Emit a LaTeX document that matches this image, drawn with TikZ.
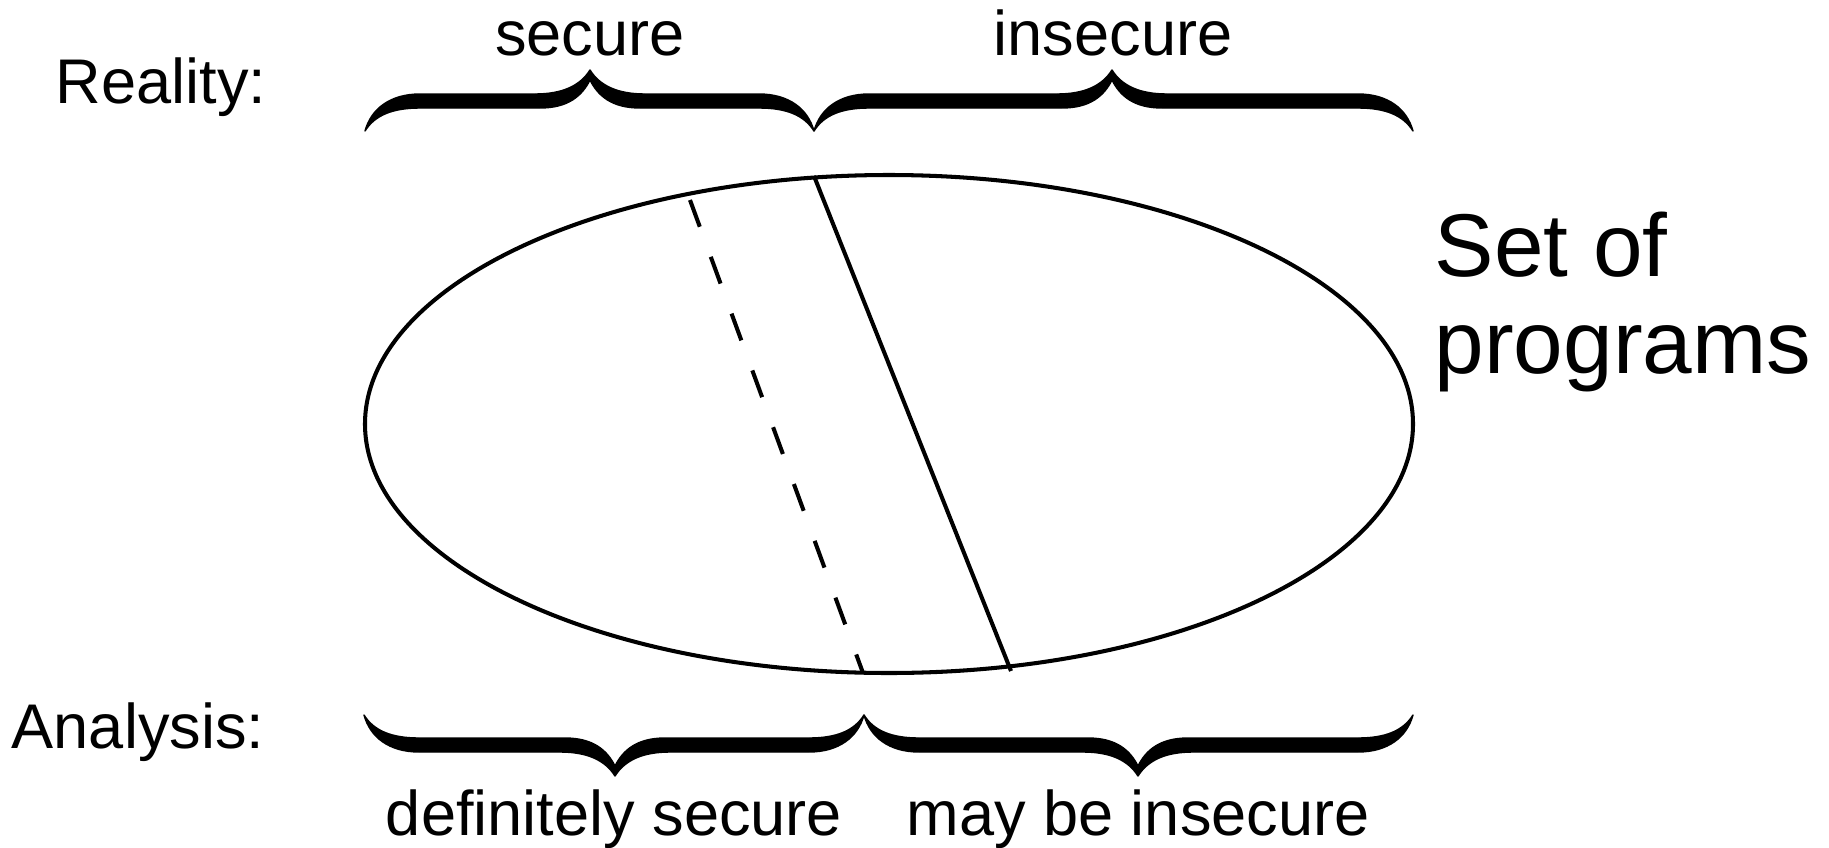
\documentclass[tikz,border=0pt]{standalone}
\usepackage{fontspec}
\setmainfont{Liberation Sans}
% #1 = left end x, #2 = tip x, #3 = right end x, #4 = end y, #5 = +1 (tip up) / -1 (tip down)
\newcommand{\curlybrace}[5]{%
  \filldraw[bracefill]
    (#1,#4) .. controls ({#1+6},{#4-(#5)*22}) and ({#1+25},{#4-(#5)*37}) .. ({#1+55},{#4-(#5)*37})
    -- ({#2-55},{#4-(#5)*37})
    .. controls ({#2-28},{#4-(#5)*37}) and ({#2-10},{#4-(#5)*45}) .. (#2,{#4-(#5)*61})
    .. controls ({#2+10},{#4-(#5)*45}) and ({#2+28},{#4-(#5)*37}) .. ({#2+55},{#4-(#5)*37})
    -- ({#3-55},{#4-(#5)*37})
    .. controls ({#3-25},{#4-(#5)*37}) and ({#3-6},{#4-(#5)*22}) .. (#3,#4)
    .. controls ({#3-10},{#4-(#5)*16}) and ({#3-28},{#4-(#5)*23}) .. ({#3-55},{#4-(#5)*23})
    -- ({#2+50},{#4-(#5)*23})
    .. controls ({#2+22},{#4-(#5)*23}) and ({#2+8},{#4-(#5)*35}) .. (#2,{#4-(#5)*51})
    .. controls ({#2-8},{#4-(#5)*35}) and ({#2-22},{#4-(#5)*23}) .. ({#2-50},{#4-(#5)*23})
    -- ({#1+55},{#4-(#5)*23})
    .. controls ({#1+28},{#4-(#5)*23}) and ({#1+10},{#4-(#5)*16}) .. (#1,#4) -- cycle;}
\begin{document}
\begin{tikzpicture}[x=0.01cm,y=-0.01cm,
  lbl/.style={inner sep=0pt, font=\fontsize{17.95pt}{21pt}\selectfont},
  big/.style={inner sep=0pt, font=\fontsize{25.35pt}{30pt}\selectfont},
  outline/.style={line width=1.15pt},
  bracefill/.style={fill=black, draw=black, line width=0.4pt, line join=round},
  dashline/.style={line width=1.15pt, dash pattern=on 8.1pt off 9.1pt}]
\useasboundingbox (0,0) rectangle (1829,848);
% set of programs
\draw[outline] (889,424) ellipse [x radius=524, y radius=249];
\coordinate (realtop) at (814,176);
\coordinate (realbot) at (1011,671);
\coordinate (anatop) at (690,200);
\coordinate (anabot) at (863,673);
\draw[outline] (realtop) -- (realbot);
\draw[dashline] (anatop) -- (anabot);
% braces
\curlybrace{365}{590}{814}{131}{1}
\curlybrace{814}{1112}{1413}{131}{1}
\curlybrace{364}{615}{864}{715}{-1}
\curlybrace{864}{1138}{1413}{715}{-1}
% labels
\node[lbl, anchor=base west] (reality) at (55,103) {Reality:};
\node[lbl, anchor=base] (secure) at (590,55) {secure};
\node[lbl, anchor=base] (insecure) at (1113,55) {insecure};
\node[lbl, anchor=base west] (analysis) at (11,748) {Analysis:};
\node[lbl, anchor=base] (defsec) at (614,835) {definitely secure};
\node[lbl, anchor=base] (mayins) at (1138,835) {may be insecure};
\node[big, anchor=base west] (setof) at (1434,276) {Set of};
\node[big, anchor=base west] (programs) at (1434,373) {programs};
\end{tikzpicture}
\end{document}
